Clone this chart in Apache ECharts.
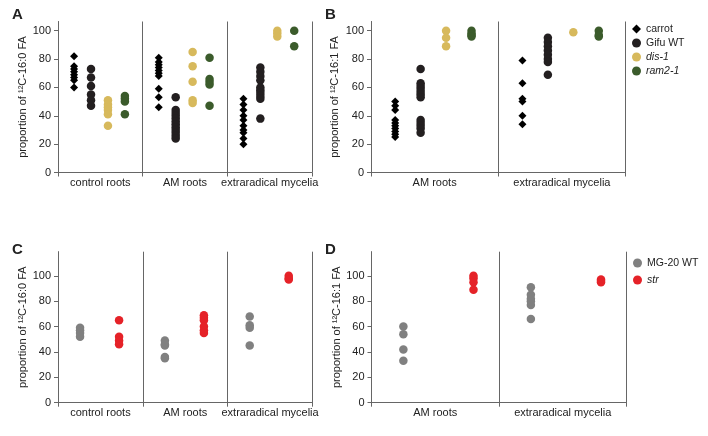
<!DOCTYPE html>
<html>
<head>
<meta charset="utf-8">
<script src="https://cdn.jsdelivr.net/npm/echarts@6/dist/echarts.min.js"></script>
<style>
    html, body { margin: 0; padding: 0; background: #fff; }
    #chart { width: 708px; height: 436px; }
</style>
</head>
<body>
<div id="chart"></div>
<script>
    // group labels and y ticks
    var groupsA = ['control roots', 'AM roots', 'extraradical mycelia'];
    var groupsB = ['AM roots', 'extraradical mycelia'];
    var yTicks = [0, 20, 40, 60, 80, 100];

    // A: proportion of 12C-16:0 FA (one inner array per group)
    var aCarrot = [[82, 75, 73, 71, 69, 67, 65, 60], [81, 78, 76, 74, 72, 70, 68, 59, 53, 46], [52, 48, 44, 40, 37, 33, 30, 28, 24, 20]];
    var aGifu = [[73, 67, 61, 55, 51, 47], [53, 44, 42, 40, 38, 36, 34, 32, 30, 28, 26, 24], [74, 71, 68, 65, 60, 58, 56, 54, 52, 38]];
    var aDis = [[51, 48, 46, 44, 41, 33], [85, 75, 64, 51, 49], [100, 98, 96]];
    var aRam = [[54, 52, 50, 41], [81, 66, 64, 62, 47], [100, 89]];

    // B: proportion of 12C-16:1 FA
    var bCarrot = [[50, 47, 44, 37, 35, 33, 31, 29, 27, 25], [79, 63, 52, 50, 40, 34]];
    var bGifu = [[73, 63, 61, 59, 57, 55, 53, 37, 35, 33, 31, 28], [95, 92, 89, 86, 83, 80, 78, 69]];
    var bDis = [[100, 95, 89], [99]];
    var bRam = [[100, 98, 97, 96], [100, 97, 96]];

    // C: 16:0, D: 16:1 (MG-20 WT vs str)
    var cMg = [[59, 57, 55, 52], [49, 46, 45, 36, 35], [68, 61, 59, 45]];
    var cStr = [[65, 52, 49, 46], [69, 67, 65, 60, 57, 55], [100, 98, 97]];
    var dMg = [[60, 54, 42, 33], [91, 85, 82, 80, 77, 66]];
    var dStr = [[100, 98, 95, 89], [97, 96, 95]];

    var axisColor = '#666';
    var textColor = '#222';
    var font = 'Liberation Sans, Arial, sans-serif';

    function pts(vals, off) {
        var out = [];
        vals.forEach(function (col, g) {
            col.forEach(function (v) { out.push([g + off, v]); });
        });
        return out;
    }

    function xAx(idx, groups) {
        var ticks = [];
        for (var i = 0; i <= groups.length; i++) ticks.push(i);
        return {
            type: 'value', gridIndex: idx, min: 0, max: groups.length, interval: 1,
            axisLine: { lineStyle: { color: axisColor, width: 1 } },
            axisTick: { customValues: ticks, length: 4, lineStyle: { color: axisColor } },
            axisLabel: {
                customValues: groups.map(function (g, i) { return i + 0.5; }),
                formatter: function (v) { return groups[Math.floor(v)]; },
                color: textColor, fontSize: 11, margin: 5, fontFamily: font
            },
            splitLine: { show: true, lineStyle: { color: axisColor, width: 1 } }
        };
    }

    function yAx(idx, max, name, gap) {
        return {
            type: 'value', gridIndex: idx, min: 0, max: max, interval: 20,
            name: name, nameLocation: 'middle', nameGap: gap, nameRotate: 90,
            nameTextStyle: { color: textColor, fontSize: 11, fontFamily: font },
            axisLine: { show: true, lineStyle: { color: axisColor, width: 1 } },
            axisTick: { show: true, customValues: yTicks, length: 4, lineStyle: { color: axisColor } },
            axisLabel: { customValues: yTicks, color: textColor, fontSize: 11, margin: 7, fontFamily: font },
            splitLine: { show: false }
        };
    }

    function sc(name, idx, data, color, symbol, size) {
        return {
            type: 'scatter', name: name, xAxisIndex: idx, yAxisIndex: idx,
            data: data, symbol: symbol, symbolSize: size, silent: true,
            itemStyle: { color: color, opacity: 1 }
        };
    }

    var offAB = [0.19, 0.39, 0.59, 0.79];
    var offC = [0.26, 0.72];
    var offD = [0.25, 0.8];

    var cCarrot = '#000', cGifu = '#231f20', cDis = '#d7b95c', cRam = '#3b5b2b';
    var cMgCol = '#808080', cStrCol = '#e52228';

    var chart = echarts.init(document.getElementById('chart'), null, { renderer: 'canvas' });
    chart.setOption({
        animation: false,
        textStyle: { fontFamily: font },
        title: [
            { text: 'A', left: 12, top: 7, padding: 0, textStyle: { fontSize: 15, fontWeight: 'bold', color: textColor } },
            { text: 'B', left: 325, top: 7, padding: 0, textStyle: { fontSize: 15, fontWeight: 'bold', color: textColor } },
            { text: 'C', left: 12, top: 242, padding: 0, textStyle: { fontSize: 15, fontWeight: 'bold', color: textColor } },
            { text: 'D', left: 325, top: 242, padding: 0, textStyle: { fontSize: 15, fontWeight: 'bold', color: textColor } }
        ],
        legend: [
            {
                orient: 'vertical', left: 632, top: 22, padding: 0, itemGap: 0,
                itemWidth: 9, itemHeight: 9, selectedMode: false,
                textStyle: { color: textColor, fontSize: 10.5, lineHeight: 14 },
                data: [
                    { name: 'carrot', icon: 'diamond' },
                    { name: 'Gifu WT', icon: 'circle' },
                    { name: 'dis-1', icon: 'circle', textStyle: { fontStyle: 'italic' } },
                    { name: 'ram2-1', icon: 'circle', textStyle: { fontStyle: 'italic' } }
                ]
            },
            {
                orient: 'vertical', left: 633, top: 256, padding: 0, itemGap: 3,
                itemWidth: 9, itemHeight: 9, selectedMode: false,
                textStyle: { color: textColor, fontSize: 10.5, lineHeight: 14 },
                data: [
                    { name: 'MG-20 WT', icon: 'circle' },
                    { name: 'str', icon: 'circle', textStyle: { fontStyle: 'italic' } }
                ]
            }
        ],
        grid: [
            { left: 58, top: 21.5, width: 254, height: 151 },
            { left: 371, top: 21.5, width: 254.5, height: 151 },
            { left: 58, top: 251.7, width: 254.5, height: 151 },
            { left: 371.5, top: 251.7, width: 255, height: 151 }
        ],
        xAxis: [xAx(0, groupsA), xAx(1, groupsB), xAx(2, groupsA), xAx(3, groupsB)],
        yAxis: [
            yAx(0, 106.5, 'proportion of \u00b9\u00b2C-16:0 FA', 24),
            yAx(1, 106.5, 'proportion of \u00b9\u00b2C-16:1 FA', 31),
            yAx(2, 119, 'proportion of \u00b9\u00b2C-16:0 FA', 25),
            yAx(3, 119, 'proportion of \u00b9\u00b2C-16:1 FA', 24)
        ],
        series: [
            sc('carrot', 0, pts(aCarrot, offAB[0]), cCarrot, 'diamond', 8),
            sc('Gifu WT', 0, pts(aGifu, offAB[1]), cGifu, 'circle', 8.5),
            sc('dis-1', 0, pts(aDis, offAB[2]), cDis, 'circle', 8.5),
            sc('ram2-1', 0, pts(aRam, offAB[3]), cRam, 'circle', 8.5),
            sc('carrot', 1, pts(bCarrot, offAB[0]), cCarrot, 'diamond', 8),
            sc('Gifu WT', 1, pts(bGifu, offAB[1]), cGifu, 'circle', 8.5),
            sc('dis-1', 1, pts(bDis, offAB[2]), cDis, 'circle', 8.5),
            sc('ram2-1', 1, pts(bRam, offAB[3]), cRam, 'circle', 8.5),
            sc('MG-20 WT', 2, pts(cMg, offC[0]), cMgCol, 'circle', 8.5),
            sc('str', 2, pts(cStr, offC[1]), cStrCol, 'circle', 8.5),
            sc('MG-20 WT', 3, pts(dMg, offD[0]), cMgCol, 'circle', 8.5),
            sc('str', 3, pts(dStr, offD[1]), cStrCol, 'circle', 8.5)
        ]
    });
</script>
</body>
</html>
